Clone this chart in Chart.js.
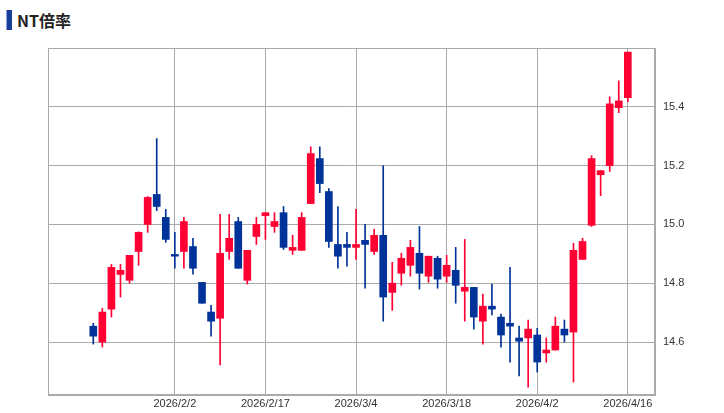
<!DOCTYPE html>
<html>
<head>
<meta charset="utf-8">
<script src="https://cdn.jsdelivr.net/npm/chart.js@4.4.1/dist/chart.umd.min.js"></script>
<style>
  body { margin: 0; background: #fff; font-family: "Noto Sans CJK JP", "Noto Sans", sans-serif; }
  #wrap { position: relative; width: 724px; height: 413px; }
  #title { position: absolute; left: 6px; top: 8px; font-size: 16px; font-weight: bold; color: #222; display: flex; align-items: center; }
  #title span.mark { display: inline-block; width: 5px; height: 20px; background: #1a3f99; margin-right: 5px; border-left: 1px solid #8aa0d8; }
  canvas { position: absolute; left: 0; top: 0; }
</style>
</head>
<body>
<div id="wrap">
  <div id="title"><span class="mark"></span>NT倍率</div>
  <canvas id="c" width="724" height="413"></canvas>
</div>
<script>
const dates = [
  '2026/1/20','2026/1/21','2026/1/22','2026/1/23','2026/1/26','2026/1/27','2026/1/28','2026/1/29','2026/1/30',
  '2026/2/2','2026/2/3','2026/2/4','2026/2/5','2026/2/6','2026/2/9','2026/2/10','2026/2/12','2026/2/13',
  '2026/2/16','2026/2/17','2026/2/18','2026/2/19','2026/2/20','2026/2/24','2026/2/25','2026/2/26','2026/2/27',
  '2026/3/2','2026/3/3','2026/3/4','2026/3/5','2026/3/6','2026/3/9','2026/3/10','2026/3/11','2026/3/12','2026/3/13',
  '2026/3/16','2026/3/17','2026/3/18','2026/3/19','2026/3/23','2026/3/24','2026/3/25','2026/3/26','2026/3/27',
  '2026/3/30','2026/3/31','2026/4/1','2026/4/2','2026/4/3','2026/4/6','2026/4/7','2026/4/8','2026/4/9','2026/4/10',
  '2026/4/13','2026/4/14','2026/4/15','2026/4/16'
];
const opens  = [14.654,14.600,14.712,14.830,14.810,14.908,15.000,15.102,15.024,14.897,14.908,14.925,14.803,14.702,14.681,14.908,15.010,14.810,14.959,15.030,
                14.993,15.040,14.912,14.912,15.071,15.224,15.112,14.932,14.932,14.922,14.946,14.908,14.963,14.769,14.834,14.861,14.902,14.824,14.885,14.824,
                14.844,14.773,14.786,14.671,14.722,14.685,14.664,14.614,14.614,14.624,14.563,14.573,14.644,14.634,14.881,14.997,15.169,15.200,15.397,15.431];
const highs  = [14.664,14.715,14.864,14.864,14.895,14.975,15.095,15.292,15.051,14.973,15.024,14.953,14.803,14.725,15.034,15.034,15.024,14.912,15.024,15.040,
                15.040,15.061,14.963,15.040,15.264,15.264,15.122,15.061,14.973,15.051,15.000,14.983,15.200,14.871,14.902,14.946,14.993,14.892,14.892,14.895,
                14.922,14.949,14.786,14.763,14.797,14.695,14.854,14.654,14.675,14.647,14.614,14.685,14.675,14.936,14.953,15.234,15.183,15.434,15.488,15.586];
const lows   = [14.593,14.583,14.685,14.753,14.800,14.861,14.973,15.047,14.939,14.851,14.851,14.831,14.732,14.620,14.522,14.881,14.851,14.797,14.932,14.949,
                14.973,14.915,14.898,14.912,15.071,15.108,14.922,14.851,14.858,14.881,14.783,14.898,14.671,14.708,14.793,14.824,14.780,14.803,14.783,14.803,
                14.732,14.671,14.644,14.593,14.692,14.583,14.532,14.485,14.447,14.498,14.532,14.573,14.600,14.464,14.881,14.993,15.098,15.180,15.380,15.417];
const closes = [14.620,14.702,14.854,14.844,14.895,14.973,15.092,15.061,14.949,14.893,15.010,14.851,14.732,14.671,14.902,14.953,14.851,14.912,15.000,15.040,
                15.010,14.922,14.922,15.024,15.241,15.139,14.942,14.892,14.922,14.932,14.932,14.963,14.753,14.800,14.885,14.922,14.834,14.892,14.814,14.861,
                14.793,14.786,14.685,14.722,14.712,14.624,14.654,14.603,14.644,14.532,14.573,14.654,14.624,14.912,14.942,15.224,15.183,15.410,15.420,15.586];
const tickDates = ['2026/2/2','2026/2/17','2026/3/4','2026/3/18','2026/4/2','2026/4/16'];
const yTicks = [14.6, 14.8, 15.0, 15.2, 15.4];

const UP = '#ff0033', DOWN = '#003399';
const col = opens.map((o, i) => closes[i] >= o ? UP : DOWN);
const wicks = dates.map((d, i) => ({ x: i, y: [lows[i], highs[i]] }));
const bodies = dates.map((d, i) => {
  let a = Math.min(opens[i], closes[i]), b = Math.max(opens[i], closes[i]);
  if (b - a < 0.006) { const m = (a + b) / 2; a = m - 0.003; b = m + 0.003; }
  return { x: i, y: [a, b] };
});

new Chart(document.getElementById('c'), {
  type: 'bar',
  data: {
    datasets: [
      { data: wicks, backgroundColor: col, barThickness: 1, grouped: false, order: 2 },
      { data: bodies, backgroundColor: col, barThickness: 7, grouped: false, order: 1 }
    ]
  },
  options: {
    responsive: false,
    animation: false,
    layout: { padding: { left: 48, top: 48, right: 0, bottom: 0 } },
    plugins: { legend: { display: false }, tooltip: { enabled: false } },
    scales: {
      x: {
        type: 'linear', min: -5, max: 62, offset: false,
        afterBuildTicks: ax => { ax.ticks = tickDates.map(t => ({ value: dates.indexOf(t) })); },
        afterFit: ax => { ax.height = 18; },
        ticks: { callback: v => dates[v], maxRotation: 0, autoSkip: false, color: '#333', font: { size: 11 }, padding: 2 },
        grid: { color: '#aaa', drawTicks: false, offset: false },
        border: { color: '#aaa' }
      },
      y: {
        position: 'right', min: 14.42, max: 15.6,
        afterBuildTicks: ax => { ax.ticks = yTicks.map(v => ({ value: v })); },
        afterFit: ax => { ax.width = 69; },
        ticks: { callback: v => v.toFixed(1), color: '#333', font: { size: 11 }, padding: 8 },
        grid: { color: '#aaa', drawTicks: false },
        border: { color: '#aaa' }
      }
    }
  },
  plugins: [{
    id: 'box',
    afterDraw(chart) {
      const { ctx, chartArea: a } = chart;
      ctx.save(); ctx.strokeStyle = '#aaa'; ctx.lineWidth = 1;
      ctx.strokeRect(a.left + 0.5, a.top + 0.5, a.right - a.left - 1, a.bottom - a.top - 1);
      ctx.restore();
    }
  }]
});
</script>
</body>
</html>
